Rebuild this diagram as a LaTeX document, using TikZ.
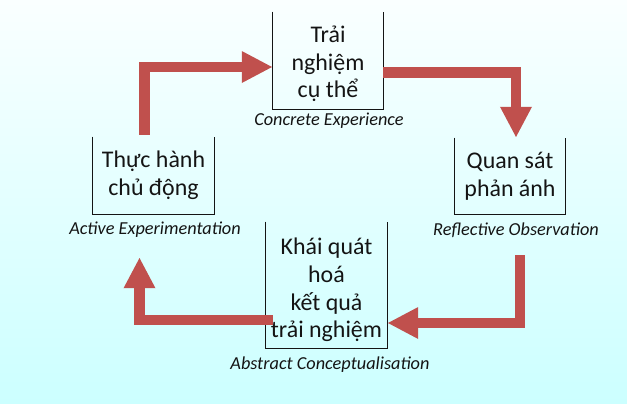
\documentclass[tikz,border=0pt]{standalone}
\usepackage{fontspec}
\setmainfont{Carlito}
\usetikzlibrary{arrows.meta,calc}
\definecolor{cycred}{HTML}{C0504D}
\definecolor{bgtop}{HTML}{FAFFFF}
\definecolor{bgbot}{HTML}{CCFFFF}
\definecolor{ink}{HTML}{141414}

\begin{document}
\begin{tikzpicture}[x=0.025cm,y=-0.025cm,
    frame/.style={inner sep=0pt},
    box/.style={inner sep=0pt, align=center, text=ink, font=\fontsize{17}{19.6}\selectfont},
    tag/.style={inner sep=0pt, text=ink, font=\fontsize{13}{15}\selectfont\itshape},
    rim/.style={line width=1pt, draw=ink},
    cyc/.style={draw=cycred, line width=7.8pt, line join=miter,
        -{Triangle[length=22pt,width=21pt]}}]
    \shade[top color=bgtop, bottom color=bgbot] (0,0) rectangle (627,403);
    \useasboundingbox (0,0) rectangle (627,403);

    \node[frame, minimum width=2.75cm, minimum height=2.425cm] (ce) at (328,60.5) {};
    \node[frame, minimum width=2.75cm, minimum height=1.9cm] (ro) at (510,176) {};
    \node[frame, minimum width=3.025cm, minimum height=3.15cm] (ac) at (326.5,285) {};
    \node[frame, minimum width=3.025cm, minimum height=1.925cm] (ae) at (153.5,175.5) {};

    % open boxes
    \foreach \b in {ce,ro,ac,ae}
        \draw[rim] (\b.north west) -- (\b.south west) -- (\b.south east) -- (\b.north east);

    \node[box] (cetext) at (328,64) {Trải\\nghiệm\\cụ thể};
    \node[box] (rotext) at (510,176) {Quan sát\\phản ánh};
    \node[box] (actext) at (326.5,290) {Khái quát\\hoá\\kết quả\\trải nghiệm};
    \node[box] (aetext) at (153.5,175.5) {Thực hành\\chủ động};

    \node[tag] (cetag) at (329,121) {Concrete Experience};
    \node[tag] (rotag) at (516,230) {Reflective Observation};
    \node[tag] (actag) at (330,365) {Abstract Conceptualisation};
    \node[tag] (aetag) at (155,230) {Active Experimentation};

    \draw[cyc] ($(ae.north)+(-9,-2)$) |- ($(ce.west)+(0,6.5)$);
    \draw[cyc] ($(ce.east)+(0,12)$) -| ($(ro.north)+(6,0)$);
    \draw[cyc] ($(ro.south)+(10,41)$) |- ($(ac.east)+(0,38)$);
    \draw[cyc] ($(ac.west)+(7,35)$) -| ($(ae.south)+(-14,43)$);
\end{tikzpicture}
\end{document}
